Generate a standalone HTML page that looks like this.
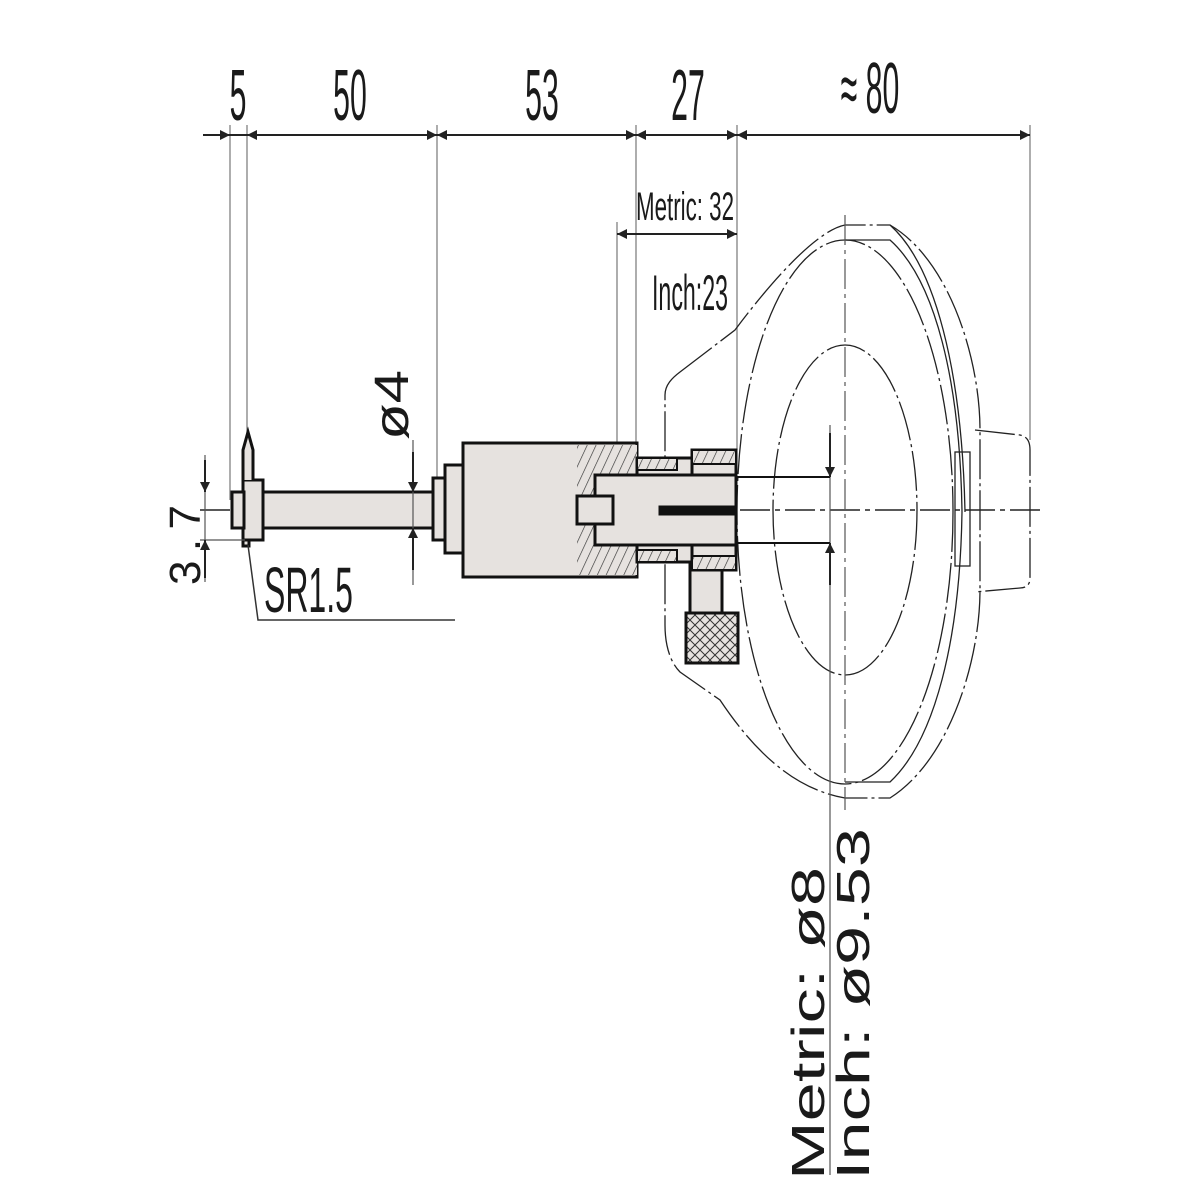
<!DOCTYPE html>
<html><head><meta charset="utf-8"><style>
html,body{margin:0;padding:0;background:#fff;width:1200px;height:1200px;overflow:hidden}
text{font-family:"Liberation Sans",sans-serif;fill:#1a1a1a}
</style></head><body>
<svg width="1200" height="1200" viewBox="0 0 1200 1200" xmlns="http://www.w3.org/2000/svg">
<defs>
<marker id="a" viewBox="0 0 10 10" refX="10" refY="5" markerWidth="16" markerHeight="10" markerUnits="userSpaceOnUse" orient="auto-start-reverse"><path d="M0,0L10,5L0,10z" fill="#222"/></marker>
<pattern id="h" width="8" height="8" patternUnits="userSpaceOnUse" patternTransform="rotate(25)"><rect width="8" height="8" fill="#e6e2df"/><line x1="0" y1="0" x2="0" y2="8" stroke="#333" stroke-width="1.3"/></pattern>
<pattern id="k" width="10" height="10" patternUnits="userSpaceOnUse"><rect width="10" height="10" fill="#e6e2df"/><path d="M0,0L10,10M10,0L0,10" stroke="#333" stroke-width="1"/></pattern>
</defs>
<g stroke="#777" stroke-width="1.2">
<line x1="230" y1="125" x2="230" y2="500"/>
<line x1="247" y1="125" x2="247" y2="440"/>
<line x1="437" y1="125" x2="437" y2="478"/>
<line x1="636" y1="125" x2="636" y2="445"/>
<line x1="737" y1="125" x2="737" y2="450"/>
<line x1="1030" y1="125" x2="1030" y2="440"/>
<line x1="617" y1="222" x2="617" y2="450"/>
</g>
<g stroke="#222" stroke-width="2">
<line x1="203" y1="135" x2="230" y2="135" marker-end="url(#a)"/>
<line x1="230" y1="135" x2="247" y2="135"/>
<line x1="247" y1="135" x2="437" y2="135" marker-start="url(#a)" marker-end="url(#a)"/>
<line x1="437" y1="135" x2="636" y2="135" marker-start="url(#a)" marker-end="url(#a)"/>
<line x1="636" y1="135" x2="737" y2="135" marker-start="url(#a)" marker-end="url(#a)"/>
<line x1="737" y1="135" x2="1030" y2="135" marker-start="url(#a)" marker-end="url(#a)"/>
<line x1="617" y1="234" x2="737" y2="234" marker-start="url(#a)" marker-end="url(#a)"/>
</g>
<g font-size="72">
<text x="238" y="120" text-anchor="middle" transform="translate(238 0) scale(0.42 1) translate(-238 0)">5</text>
<text x="350" y="120" text-anchor="middle" transform="translate(350 0) scale(0.42 1) translate(-350 0)">50</text>
<text x="542" y="120" text-anchor="middle" transform="translate(542 0) scale(0.42 1) translate(-542 0)">53</text>
<text x="688" y="120" text-anchor="middle" transform="translate(688 0) scale(0.42 1) translate(-688 0)">27</text>
<text x="870" y="113" text-anchor="middle" transform="translate(870 0) scale(0.42 1) translate(-870 0)">≈ 80</text>
</g>
<text x="636" y="220" font-size="40" textLength="98" lengthAdjust="spacingAndGlyphs">Metric: 32</text>
<text x="652" y="310" font-size="50" textLength="76" lengthAdjust="spacingAndGlyphs">Inch:23</text>
<g fill="none" stroke="#222" stroke-width="1.3">
<path d="M680,372 L735,330 C780,270 820,230 845,225 L890,225 C950,260 980,360 980,430 L980,590 C980,660 950,760 890,798 L845,798 C800,790 760,760 720,700 L680,672 C668,660 665,640 665,625 L665,395 C665,385 672,378 680,372Z" stroke-dasharray="40 4 3 4"/>
<ellipse cx="845" cy="512" rx="108" ry="272" stroke-dasharray="40 4 3 4"/>
<path d="M845,240 L890,240 C935,280 960,380 962,512 C960,640 935,740 890,782 L845,782" />
<path d="M890,225 C935,265 962,370 965,512" />
<ellipse cx="845" cy="510" rx="72" ry="165" stroke-dasharray="40 4 3 4"/>
<path d="M975,430 L1020,435 C1028,437 1030,442 1030,450 L1030,578 C1030,585 1026,588 1020,588 L975,592" stroke-dasharray="40 4 3 4"/>
<rect x="955" y="452" width="15" height="114"/>
</g>
<line x1="845" y1="215" x2="845" y2="810" stroke="#555" stroke-width="1.2" stroke-dasharray="30 5 4 5"/>
<line x1="200" y1="510" x2="1045" y2="510" stroke="#222" stroke-width="1.6" stroke-dasharray="30 5 5 5"/>
<g stroke="#111" stroke-width="3" fill="#e6e2df">
<rect x="690" y="560" width="32" height="55"/>
<rect x="686" y="613" width="52" height="50" fill="url(#k)"/>
<rect x="463" y="443" width="174" height="134"/>
<rect x="577" y="445" width="60" height="130" fill="url(#h)" stroke="none"/>
<rect x="637" y="458" width="60" height="104"/>
<rect x="637" y="458" width="40" height="12" fill="url(#h)" stroke-width="2"/>
<rect x="637" y="550" width="40" height="12" fill="url(#h)" stroke-width="2"/>
<rect x="692" y="450" width="44" height="120"/>
<rect x="692" y="450" width="44" height="14" fill="url(#h)" stroke-width="2"/>
<rect x="692" y="556" width="44" height="14" fill="url(#h)" stroke-width="2"/>
<rect x="595" y="475" width="141" height="70"/>
<rect x="577" y="496" width="36" height="28"/>
<rect x="660" y="507" width="76" height="7" fill="#111"/>
<rect x="445" y="465" width="18" height="88"/>
<rect x="433" y="478" width="12" height="62"/>
<rect x="262" y="492" width="171" height="36"/>
<rect x="243" y="480" width="20" height="60"/>
<rect x="232" y="492" width="12" height="36"/>
<path d="M243,480 L243,450 L248,432 L253,450 L253,480" />
<rect x="243" y="540" width="6" height="6"/>
</g>
<g stroke="#555" stroke-width="1.2">
<line x1="205" y1="455" x2="205" y2="582"/>
<line x1="200" y1="540" x2="245" y2="540"/>
<line x1="413" y1="440" x2="413" y2="585"/>
<line x1="830" y1="425" x2="830" y2="1175"/>
<line x1="736" y1="477" x2="830" y2="477" stroke="#111" stroke-width="2"/>
<line x1="736" y1="543" x2="830" y2="543" stroke="#111" stroke-width="2"/>
</g>
<g stroke="#222" stroke-width="2">
<line x1="205" y1="460" x2="205" y2="492" marker-end="url(#a)"/>
<line x1="205" y1="578" x2="205" y2="540" marker-end="url(#a)"/>
<line x1="413" y1="452" x2="413" y2="492" marker-end="url(#a)"/>
<line x1="413" y1="570" x2="413" y2="528" marker-end="url(#a)"/>
<line x1="830" y1="433" x2="830" y2="477" marker-end="url(#a)"/>
<line x1="830" y1="585" x2="830" y2="543" marker-end="url(#a)"/>
</g>
<path d="M248,545 L258,620 L455,620" fill="none" stroke="#333" stroke-width="1.5"/>
<text x="264" y="612" font-size="64" transform="translate(264 0) scale(0.5 1) translate(-264 0)">SR1.5</text>
<text transform="translate(200,585) rotate(-90)" font-size="44" textLength="80" lengthAdjust="spacing">3.7</text>
<text transform="translate(408,440) rotate(-90)" font-size="48" textLength="70" lengthAdjust="spacingAndGlyphs">ø4</text>
<text transform="translate(824,1180) rotate(-90)" font-size="46" textLength="313" lengthAdjust="spacingAndGlyphs">Metric: ø8</text>
<text transform="translate(869,1180) rotate(-90)" font-size="46" textLength="352" lengthAdjust="spacingAndGlyphs">Inch: ø9.53</text>
</svg>
</body></html>
